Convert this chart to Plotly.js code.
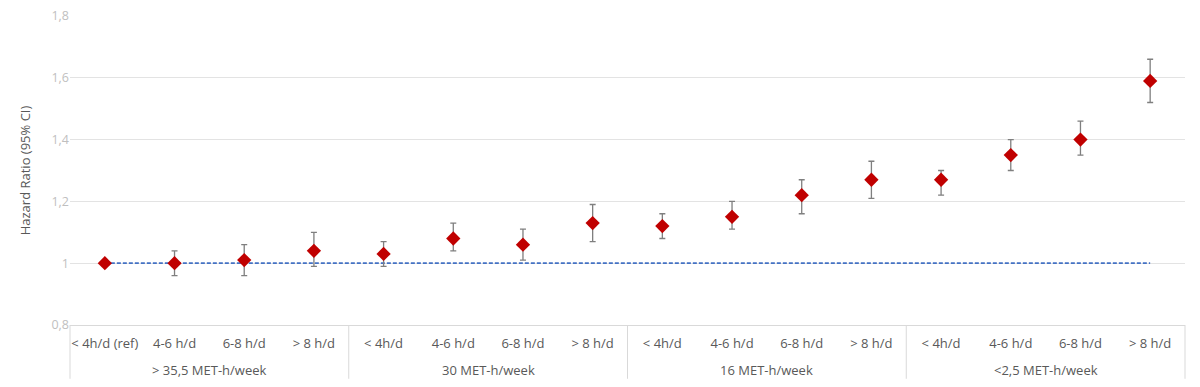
<!DOCTYPE html>
<html>
<head>
<meta charset="utf-8">
<script src="https://cdn.plot.ly/plotly-3.0.1.min.js"></script>
<style>html,body{margin:0;padding:0;background:#fff;}#chart{width:1200px;height:387px;}</style>
</head>
<body>
<div id="chart"></div>
<script>
const groups = ["> 35,5 MET-h/week","> 35,5 MET-h/week","> 35,5 MET-h/week","> 35,5 MET-h/week",
                "30 MET-h/week","30 MET-h/week","30 MET-h/week","30 MET-h/week",
                "16 MET-h/week","16 MET-h/week","16 MET-h/week","16 MET-h/week",
                "<2,5 MET-h/week","<2,5 MET-h/week","<2,5 MET-h/week","<2,5 MET-h/week"];
const subLabels = ["< 4h/d (ref)","4-6 h/d","6-8 h/d","> 8 h/d",
                   "< 4h/d","4-6 h/d","6-8 h/d","> 8 h/d",
                   "< 4h/d","4-6 h/d","6-8 h/d","> 8 h/d",
                   "< 4h/d","4-6 h/d","6-8 h/d","> 8 h/d"];
const hazardRatio = [1.00,1.00,1.01,1.04, 1.03,1.08,1.06,1.13, 1.12,1.15,1.22,1.27, 1.27,1.35,1.40,1.59];
const ciUpper     = [1.00,1.04,1.06,1.10, 1.07,1.13,1.11,1.19, 1.16,1.20,1.27,1.33, 1.30,1.40,1.46,1.66];
const ciLower     = [1.00,0.96,0.96,0.99, 0.99,1.04,1.01,1.07, 1.08,1.11,1.16,1.21, 1.22,1.30,1.35,1.52];
const referenceLine = [1,1,1,1, 1,1,1,1, 1,1,1,1, 1,1,1,1];

const idx = subLabels.map((_, i) => i);
const n = subLabels.length;
const errPlus = hazardRatio.map((v,i)=>+(ciUpper[i]-v).toFixed(3));
const errMinus = hazardRatio.map((v,i)=>+(v-ciLower[i]).toFixed(3));

// group spans derived from the groups array
const groupNames = [];
const groupStart = {}, groupEnd = {};
groups.forEach((g, i) => {
  if (!(g in groupStart)) { groupNames.push(g); groupStart[g] = i; }
  groupEnd[g] = i;
});

const FONT = '"Open Sans", sans-serif';
const LINE = '#D9D9D9';

const annotations = groupNames.map(g => ({
  text: g, xref: 'x', yref: 'paper',
  x: (groupStart[g] + groupEnd[g]) / 2, y: 0,
  yanchor: 'middle', yshift: -45, showarrow: false,
  font: {family: FONT, size: 13, color: '#595959'}
}));

const boundaries = [-0.5].concat(groupNames.map(g => groupEnd[g] + 0.5));
const shapes = boundaries.map(b => ({
  type: 'line', xref: 'paper', yref: 'paper',
  x0: (b + 0.5) / n, x1: (b + 0.5) / n, y0: 0, y1: -0.174,
  line: {color: LINE, width: 1}
}));

const traces = [
  {
    type: 'scatter', mode: 'lines',
    x: idx, y: referenceLine,
    line: {color: '#4472C4', width: 1.8, dash: '4px,2px'},
    hoverinfo: 'skip', showlegend: false
  },
  {
    type: 'scatter', mode: 'markers',
    x: idx, y: hazardRatio,
    marker: {symbol: 'diamond', color: '#C00000', size: 11, line: {width: 0}},
    error_y: {type: 'data', symmetric: false, array: errPlus, arrayminus: errMinus,
              color: '#7F7F7F', thickness: 1.3, width: 3},
    showlegend: false
  }
];

const layout = {
  width: 1200, height: 387,
  margin: {l: 70, r: 15, t: 16, b: 62},
  paper_bgcolor: '#ffffff', plot_bgcolor: '#ffffff',
  separators: ', ',
  font: {family: FONT, color: '#595959', size: 12},
  showlegend: false,
  annotations: annotations,
  shapes: shapes,
  xaxis: {
    type: 'linear',
    range: [-0.5, n - 0.5], autorange: false,
    tickmode: 'array', tickvals: idx, ticktext: subLabels,
    showgrid: false, zeroline: false,
    showline: true, linecolor: LINE, linewidth: 1,
    ticks: '', tickangle: 0, ticklabelstandoff: 6,
    tickfont: {family: FONT, size: 13, color: '#595959'}
  },
  yaxis: {
    range: [0.8, 1.8], dtick: 0.2, tick0: 0.8,
    showgrid: true, gridcolor: '#E3E3E3', gridwidth: 1,
    zeroline: false, showline: false, ticks: '',
    tickfont: {family: FONT, size: 12.5, color: '#BFBFBF'},
    title: {text: 'Hazard Ratio (95% CI)', font: {family: FONT, size: 13, color: '#595959'}, standoff: 17}
  }
};

Plotly.newPlot('chart', traces, layout, {displayModeBar: false, staticPlot: true});
</script>
</body>
</html>
